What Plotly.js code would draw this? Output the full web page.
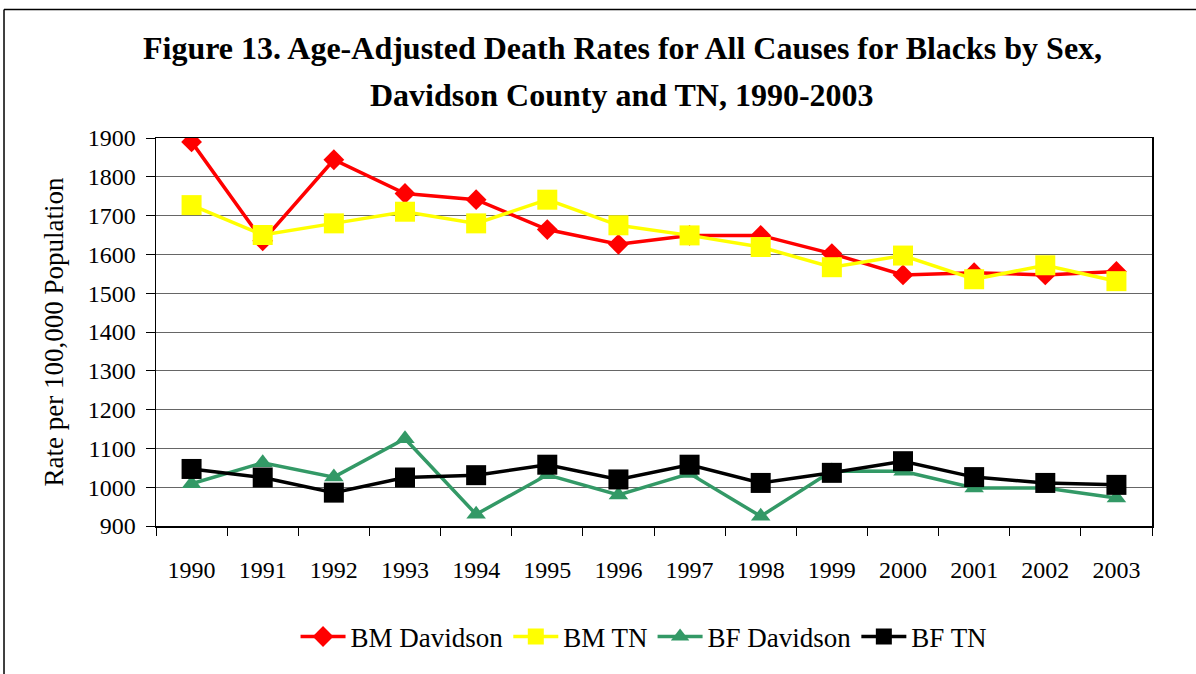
<!DOCTYPE html>
<html>
<head>
<meta charset="utf-8">
<script src="https://cdn.plot.ly/plotly-3.0.1.min.js"></script>
<style>
html,body{margin:0;padding:0;background:#fff;}
#chart{width:1196px;height:674px;}
</style>
</head>
<body>
<div id="chart"></div>
<script>
const years = ['1990','1991','1992','1993','1994','1995','1996','1997','1998','1999','2000','2001','2002','2003'];
const bmDavidson = [1890,1635,1844,1757,1741,1664,1626,1649,1649,1602,1547,1553,1547,1556];
const bmTN       = [1727,1650,1680,1710,1680,1741,1675,1649,1619,1567,1597,1536,1572,1531];
const bfDavidson = [1009,1063,1026,1125,930,1032,980,1035,925,1042,1041,998,998,972];
const bfTN       = [1047,1025,986,1025,1031,1058,1020,1058,1011,1037,1067,1026,1011,1006];
const seriesNames = ['BM Davidson','BM TN','BF Davidson','BF TN'];
const titleLines = ['Figure 13. Age-Adjusted Death Rates for All Causes for Blacks by Sex,','Davidson County and TN, 1990-2003'];
const yTitle = 'Rate per 100,000 Population';

const serif = "'Liberation Serif', 'Times New Roman', serif";

const traces = [
  {x: years, y: bmDavidson, name: seriesNames[0], mode: 'lines+markers', type: 'scatter',
   line: {color: '#FF0000', width: 3.5}, marker: {symbol: 'diamond', size: 16, color: '#FF0000'}},
  {x: years, y: bmTN, name: seriesNames[1], mode: 'lines+markers', type: 'scatter',
   line: {color: '#FFFF00', width: 3.5}, marker: {symbol: 'square', size: 20, color: '#FFFF00'}},
  {x: years, y: bfDavidson, name: seriesNames[2], mode: 'lines+markers', type: 'scatter',
   line: {color: '#339966', width: 3.5}, marker: {symbol: 'triangle-up', size: 17, color: '#339966'}},
  {x: years, y: bfTN, name: seriesNames[3], mode: 'lines+markers', type: 'scatter',
   line: {color: '#000000', width: 3.5}, marker: {symbol: 'square', size: 20, color: '#000000'}}
];

const layout = {
  width: 1196, height: 674,
  margin: {l: 156, r: 44, t: 138, b: 148},
  paper_bgcolor: '#ffffff', plot_bgcolor: '#ffffff',
  font: {family: serif, size: 24, color: '#000'},
  showlegend: true,
  legend: {orientation: 'h', x: 0.49, xanchor: 'center', y: -0.286, yanchor: 'middle', itemwidth: 45,
           font: {family: serif, size: 27, color: '#000'}, traceorder: 'normal'},
  xaxis: {type: 'category', range: [-0.5, 13.5], autorange: false, showgrid: false, showline: true,
          linecolor: '#000', linewidth: 1.5, mirror: true, ticks: 'outside', tickson: 'boundaries',
          ticklen: 8, tickcolor: '#000', ticklabelstandoff: 22,
          tickfont: {family: serif, size: 24}, zeroline: false},
  yaxis: {range: [900, 1900], autorange: false, dtick: 100, showgrid: true, gridcolor: '#666', gridwidth: 1,
          showline: true, linecolor: '#000', linewidth: 1.5, mirror: true, ticks: 'outside',
          ticklen: 9, tickcolor: '#000', ticklabelstandoff: 5, tickfont: {family: serif, size: 24},
          zeroline: false,
          title: {text: yTitle, font: {family: serif, size: 27}, standoff: 16}},
  annotations: [
    {text: '<b>' + titleLines[0] + '</b>', xref: 'paper', yref: 'paper', x: 0.468, y: 1.233,
     showarrow: false, xanchor: 'center', yanchor: 'middle', font: {family: serif, size: 32, color: '#000'}},
    {text: '<b>' + titleLines[1] + '</b>', xref: 'paper', yref: 'paper', x: 0.468, y: 1.112,
     showarrow: false, xanchor: 'center', yanchor: 'middle', font: {family: serif, size: 32, color: '#000'}}
  ],
  shapes: [
    {type: 'line', xref: 'paper', yref: 'paper', x0: -0.1526, x1: 1.06, y0: 1.3315, y1: 1.3315,
     line: {color: '#000', width: 1.5}},
    {type: 'line', xref: 'paper', yref: 'paper', x0: -0.1526, x1: -0.1526, y0: 1.3315, y1: -0.45,
     line: {color: '#000', width: 1.5}}
  ]
};

Plotly.newPlot('chart', traces, layout, {displayModeBar: false, staticPlot: true});
</script>
</body>
</html>
